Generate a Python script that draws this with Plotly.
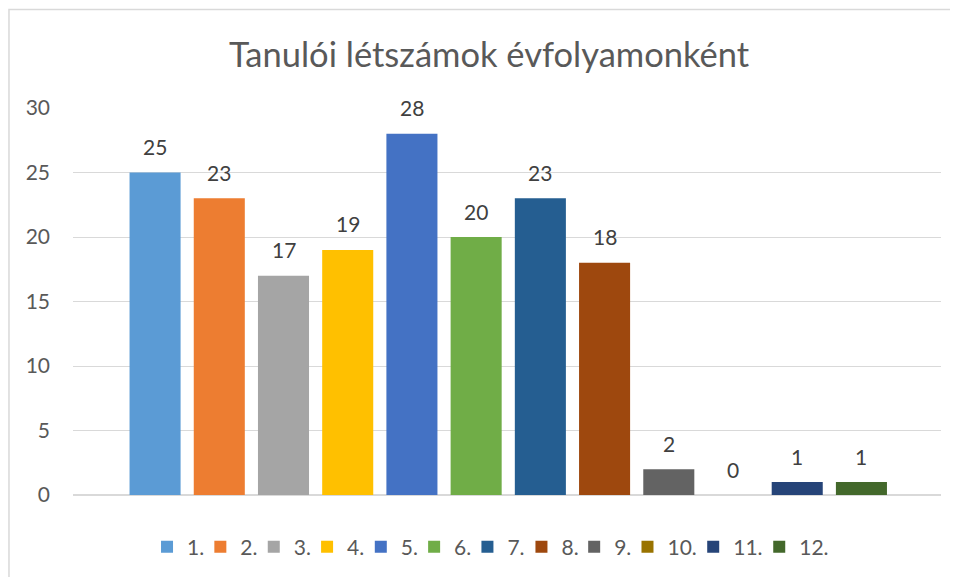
import plotly.graph_objects as go

title_text = "Tanulói létszámok évfolyamonként"
grades = ["1.", "2.", "3.", "4.", "5.", "6.", "7.", "8.", "9.", "10.", "11.", "12."]
students = [25, 23, 17, 19, 28, 20, 23, 18, 2, 0, 1, 1]
colors = ["#5B9BD5", "#ED7D31", "#A5A5A5", "#FFC000", "#4472C4", "#70AD47",
          "#255E91", "#9E480E", "#636363", "#997300", "#264478", "#43682B"]
y_ticks = [0, 5, 10, 15, 20, 25, 30]

# legend entry left positions (pixels in figure coordinates) - layout only
legend_px = [152, 205.3, 258.7, 312, 365.7, 419, 472.3, 526.3, 579, 632.3, 698, 764]

FONT = "Lato, 'Open Sans', sans-serif"
W, H = 950, 569
ML, MR, MT, MB = 65, 17.3, 100, 82
PW = W - ML - MR
PH = H - MT - MB

fig = go.Figure()
for k, (g, v, c) in enumerate(zip(grades, students, colors)):
    lg = "legend" if k == 0 else f"legend{k + 1}"
    fig.add_trace(go.Bar(x=[g], y=[v], name=g, legend=lg,
                         marker=dict(color=c, line=dict(width=0)), hoverinfo="x+y"))

# data labels
for i, v in enumerate(students):
    fig.add_annotation(x=i, y=v, text=str(v), showarrow=False, yanchor="middle",
                       yshift=26, font=dict(family=FONT, size=21, color="#404040"))

# outer chart border
fig.add_shape(type="rect", xref="paper", yref="paper",
              x0=(1 - ML) / PW, x1=1.05, y0=-0.3, y1=(MT - 1.5) / PH + 1,
              line=dict(color="#D9D9D9", width=1.5), fillcolor="rgba(0,0,0,0)", layer="below")

legend_y = -52 / PH  # 52 px below plot bottom
layout_legends = {}
for k, px in enumerate(legend_px):
    key = "legend" if k == 0 else f"legend{k + 1}"
    layout_legends[key] = dict(
        orientation="h", x=(px - 13 - ML) / PW, xanchor="left", y=legend_y, yanchor="middle",
        font=dict(family=FONT, size=21, color="#595959"), itemwidth=30,
        bgcolor="rgba(0,0,0,0)")

fig.update_layout(
    width=W, height=H,
    margin=dict(l=ML, r=MR, t=MT, b=MB, autoexpand=False),
    paper_bgcolor="white", plot_bgcolor="white",
    barmode="relative", bargap=0.205,
    title=dict(text=title_text, x=481 / W, xanchor="center", y=1 - 47 / H, yanchor="middle",
               font=dict(family=FONT, size=34.5, color="#595959")),
    font=dict(family=FONT, color="#595959"),
    showlegend=True,
    xaxis=dict(type="category", range=[-1.278, 12.239], showticklabels=False,
               showgrid=False, zeroline=False, showline=False, ticks=""),
    yaxis=dict(range=[0, 30], tickvals=y_ticks, showgrid=True, gridcolor="#D9D9D9",
               gridwidth=1, zeroline=True, zerolinecolor="#D9D9D9", zerolinewidth=1.5,
               showline=False, ticks="", ticklabelstandoff=22,
               tickfont=dict(family=FONT, size=21, color="#595959")),
    **layout_legends,
)

fig.write_html("out.html")
